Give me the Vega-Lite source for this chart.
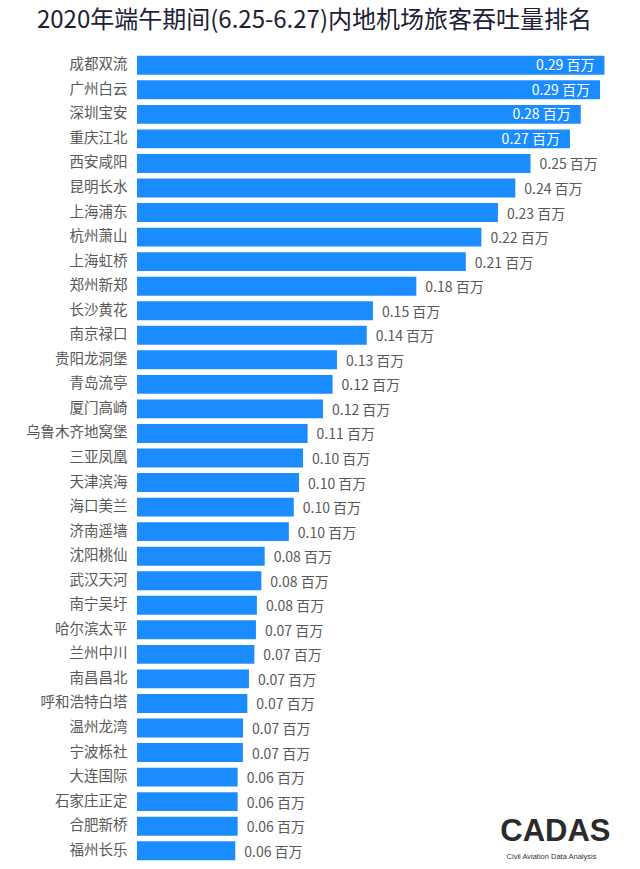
{
  "$schema": "https://vega.github.io/schema/vega-lite/v6.json",
  "autosize": {"type": "none"},
  "padding": {"left": 137, "top": 53, "right": 26, "bottom": 6},
  "width": 477,
  "height": 810,
  "background": "white",
  "title": {
    "text": "2020年端午期间(6.25-6.27)内地机场旅客吞吐量排名",
    "font": "Noto Sans CJK SC",
    "fontSize": 24,
    "fontWeight": "normal",
    "color": "#1d2136",
    "anchor": "middle",
    "frame": "group",
    "dx": -61,
    "dy": 28,
    "baseline": "bottom",
    "offset": 24
  },
  "data": {
    "values": [
      {"airport": "成都双流", "value": 0.294, "label": "0.29 百万"},
      {"airport": "广州白云", "value": 0.2912, "label": "0.29 百万"},
      {"airport": "深圳宝安", "value": 0.2791, "label": "0.28 百万"},
      {"airport": "重庆江北", "value": 0.2723, "label": "0.27 百万"},
      {"airport": "西安咸阳", "value": 0.2475, "label": "0.25 百万"},
      {"airport": "昆明长水", "value": 0.2379, "label": "0.24 百万"},
      {"airport": "上海浦东", "value": 0.227, "label": "0.23 百万"},
      {"airport": "杭州萧山", "value": 0.2166, "label": "0.22 百万"},
      {"airport": "上海虹桥", "value": 0.2068, "label": "0.21 百万"},
      {"airport": "郑州新郑", "value": 0.1757, "label": "0.18 百万"},
      {"airport": "长沙黄花", "value": 0.1484, "label": "0.15 百万"},
      {"airport": "南京禄口", "value": 0.1445, "label": "0.14 百万"},
      {"airport": "贵阳龙洞堡", "value": 0.1258, "label": "0.13 百万"},
      {"airport": "青岛流亭", "value": 0.123, "label": "0.12 百万"},
      {"airport": "厦门高崎", "value": 0.117, "label": "0.12 百万"},
      {"airport": "乌鲁木齐地窝堡", "value": 0.1073, "label": "0.11 百万"},
      {"airport": "三亚凤凰", "value": 0.1044, "label": "0.10 百万"},
      {"airport": "天津滨海", "value": 0.1019, "label": "0.10 百万"},
      {"airport": "海口美兰", "value": 0.0986, "label": "0.10 百万"},
      {"airport": "济南遥墙", "value": 0.0955, "label": "0.10 百万"},
      {"airport": "沈阳桃仙", "value": 0.0803, "label": "0.08 百万"},
      {"airport": "武汉天河", "value": 0.0782, "label": "0.08 百万"},
      {"airport": "南宁吴圩", "value": 0.0754, "label": "0.08 百万"},
      {"airport": "哈尔滨太平", "value": 0.0748, "label": "0.07 百万"},
      {"airport": "兰州中川", "value": 0.0738, "label": "0.07 百万"},
      {"airport": "南昌昌北", "value": 0.0704, "label": "0.07 百万"},
      {"airport": "呼和浩特白塔", "value": 0.0694, "label": "0.07 百万"},
      {"airport": "温州龙湾", "value": 0.0667, "label": "0.07 百万"},
      {"airport": "宁波栎社", "value": 0.0666, "label": "0.07 百万"},
      {"airport": "大连国际", "value": 0.0633, "label": "0.06 百万"},
      {"airport": "石家庄正定", "value": 0.0633, "label": "0.06 百万"},
      {"airport": "合肥新桥", "value": 0.0633, "label": "0.06 百万"},
      {"airport": "福州长乐", "value": 0.0618, "label": "0.06 百万"}
    ]
  },
  "encoding": {
    "y": {
      "field": "airport",
      "type": "nominal",
      "sort": null,
      "scale": {"paddingInner": 0.23, "paddingOuter": 0.115},
      "axis": {
        "title": "Civil Aviation Data Analysis",
        "titleAngle": 0,
        "titleX": 414,
        "titleY": 803,
        "titleAlign": "center",
        "titleBaseline": "middle",
        "titleFont": "Liberation Sans",
        "titleFontSize": 7.5,
        "titleFontWeight": "normal",
        "titleColor": "#333333",
        "ticks": false,
        "domain": false,
        "grid": false,
        "labelPadding": 10,
        "labelFont": "Noto Sans CJK SC",
        "labelFontSize": 14.5,
        "labelColor": "#595959"
      }
    },
    "x": {
      "field": "value",
      "type": "quantitative",
      "scale": {"domain": [0, 0.3], "nice": false},
      "axis": {
        "title": "CADAS",
        "titleX": 473,
        "titleY": -23,
        "titleAlign": "right",
        "titleAnchor": null,
        "titleBaseline": "alphabetic",
        "titleFont": "Liberation Sans",
        "titleFontSize": 31,
        "titleFontWeight": "bold",
        "titleColor": "#2b2b2b",
        "labels": false,
        "ticks": false,
        "domain": false,
        "grid": false
      }
    }
  },
  "layer": [
    {
      "mark": {"type": "bar", "color": "#1a8cff"}
    },
    {
      "transform": [{"filter": "datum.value > 0.26"}],
      "mark": {"type": "text", "align": "right", "baseline": "middle", "dx": -10, "dy": 1, "font": "Noto Sans CJK SC", "fontSize": 14, "color": "#ffffff"},
      "encoding": {"text": {"field": "label"}}
    },
    {
      "transform": [{"filter": "datum.value <= 0.26"}],
      "mark": {"type": "text", "align": "left", "baseline": "middle", "dx": 9, "dy": 2, "font": "Noto Sans CJK SC", "fontSize": 14, "color": "#595959"},
      "encoding": {"text": {"field": "label"}}
    }
  ],
  "config": {"view": {"stroke": null}}
}
